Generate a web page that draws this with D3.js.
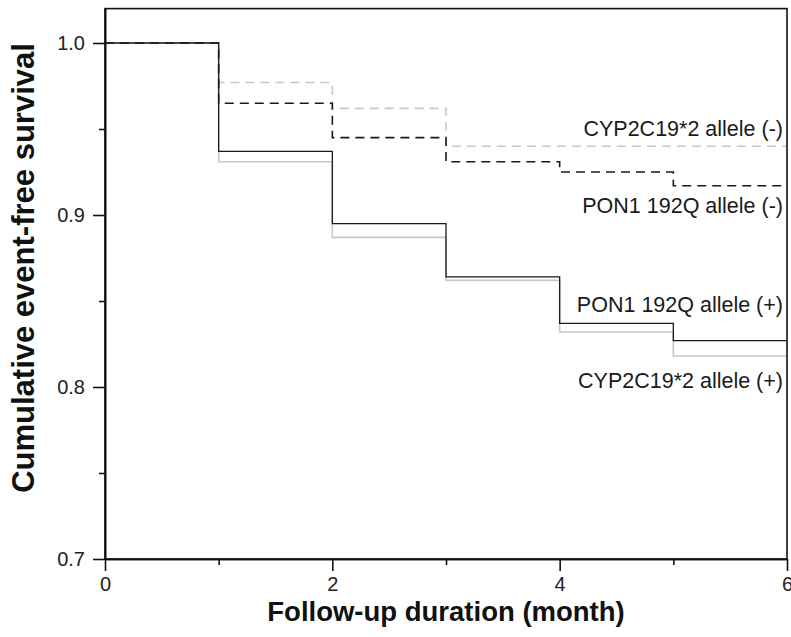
<!DOCTYPE html>
<html>
<head>
<meta charset="utf-8">
<script src="https://cdn.jsdelivr.net/npm/d3@7"></script>
<style>
  html, body { margin: 0; padding: 0; background: #fff; }
  svg { display: block; font-family: "Liberation Sans", Arial, sans-serif; }
</style>
</head>
<body>
<svg id="chart" width="791" height="637"></svg>
<script>
const months = [0, 1, 2, 3, 4, 5, 6];
const cypNeg = [1.0, 0.977, 0.962, 0.940, 0.940, 0.940, 0.940];
const ponNeg = [1.0, 0.965, 0.945, 0.931, 0.925, 0.917, 0.917];
const ponPos = [1.0, 0.937, 0.895, 0.864, 0.837, 0.827, 0.827];
const cypPos = [1.0, 0.931, 0.887, 0.862, 0.832, 0.818, 0.818];
const seriesNames = ["CYP2C19*2 allele (-)", "PON1 192Q allele (-)", "PON1 192Q allele (+)", "CYP2C19*2 allele (+)"];
const xMajorTicks = [0, 2, 4, 6];
const xMinorTicks = [1, 3, 5];
const yMajorTicks = [0.7, 0.8, 0.9, 1.0];
const yMinorTicks = [0.75, 0.85, 0.95];

const svg = d3.select("#chart");
const pLeft = 105, pRight = 787, pTop = 8.6, pBottom = 559;

const x = d3.scaleLinear().domain([0, 6]).range([pLeft, pRight]);
const y = d3.scaleLinear().domain([0.7, 1.02]).range([pBottom, pTop]);

// series
const series = [
  { vals: cypNeg, color: "#c8c8c8", dash: "9,6", width: 1.6 },
  { vals: cypPos, color: "#c8c8c8", dash: null, width: 1.6 },
  { vals: ponNeg, color: "#1a1a1a", dash: "9,6", width: 1.6 },
  { vals: ponPos, color: "#1a1a1a", dash: null, width: 1.3 }
];
const line = d3.line().x(d => x(d[0])).y(d => y(d[1])).curve(d3.curveStepAfter);
series.forEach(s => {
  svg.append("path")
    .attr("d", line(months.map((m, i) => [m, s.vals[i]])))
    .attr("fill", "none")
    .attr("stroke", s.color)
    .attr("stroke-width", s.width)
    .attr("stroke-dasharray", s.dash);
});

// frame
svg.append("rect")
  .attr("x", pLeft).attr("y", pTop)
  .attr("width", pRight - pLeft).attr("height", pBottom - pTop)
  .attr("fill", "none").attr("stroke", "#111").attr("stroke-width", 1.6);

// x axis
svg.append("g").attr("transform", `translate(0,${pBottom})`)
  .call(d3.axisBottom(x).tickValues(xMajorTicks).tickFormat(d3.format("d")).tickSizeInner(12).tickSizeOuter(0).tickPadding(6));
svg.append("g").attr("transform", `translate(0,${pBottom})`)
  .call(d3.axisBottom(x).tickValues(xMinorTicks).tickFormat("").tickSizeInner(6).tickSizeOuter(0));
// y axis
svg.append("g").attr("transform", `translate(${pLeft},0)`)
  .call(d3.axisLeft(y).tickValues(yMajorTicks).tickFormat(d3.format(".1f")).tickSizeInner(12).tickSizeOuter(0).tickPadding(8));
svg.append("g").attr("transform", `translate(${pLeft},0)`)
  .call(d3.axisLeft(y).tickValues(yMinorTicks).tickFormat("").tickSizeInner(6).tickSizeOuter(0));

svg.selectAll(".domain").attr("stroke", "#111").attr("stroke-width", 1.6);
svg.selectAll(".tick line").attr("stroke", "#111").attr("stroke-width", 1.6);
svg.selectAll(".tick text").attr("font-size", 20).attr("fill", "#222")
  .attr("font-family", "Liberation Sans, Arial, sans-serif");

// series labels
const labelY = [0.9459, 0.901, 0.8438, 0.7994];
seriesNames.forEach((n, i) => {
  svg.append("text")
    .attr("x", 783).attr("y", y(labelY[i]))
    .attr("text-anchor", "end")
    .attr("font-size", 21.5)
    .attr("fill", "#1a1a1a")
    .text(n);
});

// axis titles
svg.append("text")
  .attr("x", (pLeft + pRight) / 2).attr("y", 621)
  .attr("text-anchor", "middle")
  .attr("font-size", 27.5).attr("font-weight", "bold").attr("fill", "#111")
  .text("Follow-up duration (month)");
svg.append("text")
  .attr("transform", "translate(34,268) rotate(-90)")
  .attr("text-anchor", "middle")
  .attr("font-size", 31).attr("font-weight", "bold").attr("fill", "#111")
  .text("Cumulative event-free survival");
</script>
</body>
</html>
